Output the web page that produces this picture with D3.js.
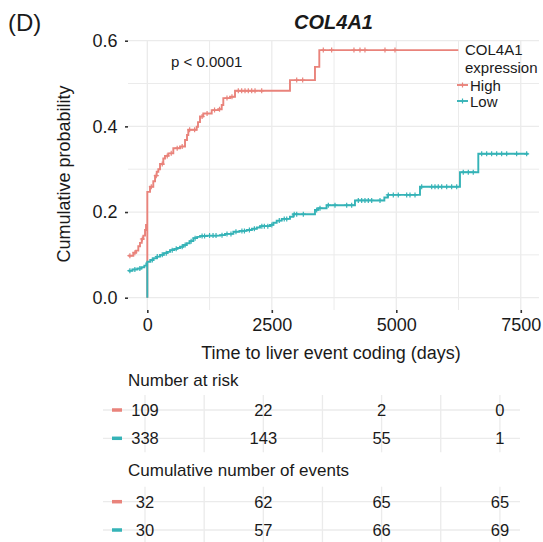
<!DOCTYPE html>
<html>
<head>
<meta charset="utf-8">
<script src="https://cdn.jsdelivr.net/npm/d3@7"></script>
<style>
  body { margin: 0; background: #fff; }
  text { font-family: "Liberation Sans", Arial, Helvetica, sans-serif; fill: #1a1a1a; }
</style>
</head>
<body>
<script>
// ---- data ----
var groups = ["High", "Low"];
var groupColors = ["#E9837B", "#35B3B7"];

// cumulative incidence, [time (days), probability]; the (0, 0) row is the origin point
var highCurve = [
  [-382, 0.098], [-281, 0.105], [-227, 0.110], [-181, 0.120], [-147, 0.128],
  [-112, 0.137], [-80, 0.145], [-46, 0.158], [-26, 0.170],
  [0, 0],
  [0, 0.247], [54, 0.259], [120, 0.272], [155, 0.285], [189, 0.294],
  [221, 0.300], [255, 0.312], [321, 0.325], [355, 0.331], [422, 0.337],
  [522, 0.349], [657, 0.353], [757, 0.368], [797, 0.380], [823, 0.392],
  [992, 0.399], [1018, 0.410], [1058, 0.423], [1124, 0.430], [1293, 0.438],
  [1426, 0.440], [1494, 0.450], [1526, 0.466], [1661, 0.469], [1761, 0.483],
  [2865, 0.508], [3367, 0.539], [3454, 0.578], [6245, 0.578]
];
var lowCurve = [
  [-382, 0.063], [-300, 0.066], [-200, 0.068], [-120, 0.071], [-60, 0.075],
  [-20, 0.080],
  [0, 0],
  [0, 0.084], [60, 0.088], [120, 0.092], [190, 0.096], [255, 0.100],
  [330, 0.104], [400, 0.107], [456, 0.111], [540, 0.114], [600, 0.116],
  [657, 0.119], [720, 0.123], [791, 0.127], [850, 0.132], [924, 0.139],
  [1000, 0.142], [1060, 0.144], [1200, 0.145], [1460, 0.146], [1560, 0.149],
  [1728, 0.154], [1850, 0.156], [1996, 0.158], [2100, 0.161], [2200, 0.164],
  [2263, 0.167], [2464, 0.170], [2530, 0.175], [2598, 0.180], [2700, 0.184],
  [2865, 0.189], [2932, 0.195], [3367, 0.205], [3430, 0.209], [3600, 0.216],
  [4170, 0.227], [4760, 0.234], [4830, 0.240], [5476, 0.259], [6279, 0.293],
  [6647, 0.336], [7650, 0.336]
];

// censoring times (marks sit on the curve)
var highCensor = [-350, -250, -100, 80, 180, 300, 400, 480, 600, 700, 850, 950,
  1100, 1200, 1350, 1450, 1600, 1700, 1827, 1895, 1962, 2028, 2096, 2163, 2297,
  3000, 3120, 3534, 3702, 4150, 4271, 4371, 4773, 4974];
var lowCensor = [-350, -250, -150, 100, 200, 300, 380, 500, 580, 700, 760, 880,
  960, 1100, 1150, 1250, 1320, 1380, 1500, 1600, 1680, 1780, 1900, 1950, 2050,
  2150, 2300, 2350, 2420, 2500, 2650, 2750, 2800, 2950, 3000, 3133, 3401, 3468,
  3635, 3769, 4004, 4104, 4237, 4305, 4371, 4438, 4506, 4673, 4840, 4940, 5040,
  5209, 5275, 5376, 5510, 5711, 5777, 5843, 5912, 6012, 6112, 6213, 6345, 6446,
  6546, 6715, 6815, 6915, 7016, 7116, 7217, 7417, 7618];

var xMajor = [0, 2500, 5000, 7500];
var xMinor = [1250, 3750, 6250];
var yMajor = [0, 0.2, 0.4, 0.6];
var yMinor = [0.1, 0.3, 0.5];

var riskTimes = [0, 2500, 5000, 7500];
var riskHigh = [109, 22, 2, 0];
var riskLow = [338, 143, 55, 1];
var eventsHigh = [32, 62, 65, 65];
var eventsLow = [30, 57, 66, 69];

// ---- layout ----
var W = 543, H = 542;
var panel = {left: 128, right: 539, top: 40, bottom: 310};
var gridColor = "#ebebeb";

var svg = d3.select("body").append("svg")
  .attr("width", W).attr("height", H);

svg.append("rect").attr("width", W).attr("height", H).attr("fill", "#fff");

var x = d3.scaleLinear().domain([-388, 7866]).range([panel.left, panel.right]);
var y = d3.scaleLinear().domain([0, 0.6]).range([297.7, 40.7]);

// grid
var grid = svg.append("g");
grid.selectAll(".vg").data(xMajor.concat(xMinor)).enter().append("line")
  .attr("x1", d => x(d)).attr("x2", d => x(d))
  .attr("y1", panel.top).attr("y2", panel.bottom)
  .attr("stroke", gridColor).attr("stroke-width", d => xMajor.indexOf(d) >= 0 ? 1.3 : 1);
grid.selectAll(".hg").data(yMajor.concat(yMinor)).enter().append("line")
  .attr("x1", panel.left).attr("x2", panel.right)
  .attr("y1", d => y(d)).attr("y2", d => y(d))
  .attr("stroke", gridColor).attr("stroke-width", d => yMajor.indexOf(d) >= 0 ? 1.3 : 1);

// axes
var yAxis = svg.append("g").attr("transform", "translate(" + panel.left + ",0)")
  .call(d3.axisLeft(y).tickValues(yMajor).tickSize(3).tickPadding(7.5)
    .tickFormat(d3.format(".1f")));
var xAxis = svg.append("g").attr("transform", "translate(0," + panel.bottom + ")")
  .call(d3.axisBottom(x).tickValues(xMajor).tickSize(3).tickPadding(5)
    .tickFormat(d3.format("d")));
[xAxis, yAxis].forEach(function(ax) {
  ax.select(".domain").remove();
  ax.selectAll(".tick line").attr("stroke", "#333").attr("stroke-width", 1.6);
  ax.selectAll(".tick text").style("font-size", "18px").attr("fill", "#1a1a1a")
    .style("font-family", '"Liberation Sans", Arial, sans-serif');
});

// curves
var line = d3.line().x(d => x(d[0])).y(d => y(d[1])).curve(d3.curveStepAfter);
var bis = d3.bisector(d => d[0]).right;
function stepValue(curve, t) {
  return curve[Math.max(0, bis(curve, t) - 1)][1];
}

var curves = [highCurve, lowCurve];
var censors = [highCensor, lowCensor];
curves.forEach(function(c, i) {
  svg.append("path").datum(c)
    .attr("d", line).attr("fill", "none")
    .attr("stroke", groupColors[i]).attr("stroke-width", 1.9);
  var cross = svg.append("g").attr("stroke", groupColors[i]).attr("stroke-width", 1.2);
  cross.selectAll("path").data(censors[i]).enter().append("path")
    .attr("d", function(t) {
      var cx = x(t), cy = y(stepValue(c, t));
      return "M" + (cx - 2.5) + "," + cy + "H" + (cx + 2.5) + "M" + cx + "," + (cy - 2.5) + "V" + (cy + 2.5);
    });
});

// titles
svg.append("text").attr("x", 8).attr("y", 31).style("font-size", "24px").text("(D)");
svg.append("text").attr("x", (panel.left + panel.right) / 2).attr("y", 29)
  .attr("text-anchor", "middle").style("font-size", "20px")
  .style("font-weight", "bold").style("font-style", "italic").text("COL4A1");
svg.append("text").attr("x", 171).attr("y", 67).style("font-size", "15px").text("p < 0.0001");
svg.append("text").attr("x", 331).attr("y", 359).attr("text-anchor", "middle")
  .style("font-size", "18px").text("Time to liver event coding (days)");
svg.append("text").attr("transform", "translate(70,174) rotate(-90)")
  .attr("text-anchor", "middle").style("font-size", "18px").text("Cumulative probability");

// legend
var lg = svg.append("g");
lg.append("text").attr("x", 465).attr("y", 55).style("font-size", "15px").text("COL4A1");
lg.append("text").attr("x", 465).attr("y", 73).style("font-size", "15px").text("expression");
groups.forEach(function(g, i) {
  var ly = 85 + i * 16;
  lg.append("line").attr("x1", 457).attr("x2", 468).attr("y1", ly).attr("y2", ly)
    .attr("stroke", groupColors[i]).attr("stroke-width", 1.9);
  lg.append("path").attr("d", "M462.5," + (ly - 2.5) + "V" + (ly + 2.5))
    .attr("stroke", groupColors[i]).attr("stroke-width", 1.2);
  lg.append("text").attr("x", 470).attr("y", ly + 5.5).style("font-size", "15px").text(g);
});

// risk tables
var tx = d3.scaleLinear().domain([-888, 7925]).range([103, 520]);
function drawTable(title, titleY, rowYs, rows) {
  svg.append("text").attr("x", 128).attr("y", titleY).style("font-size", "17px").text(title);
  var top = rowYs[0] - 15, bottom = rowYs[1] + 14;
  svg.selectAll(null).data(xMajor.concat(xMinor)).enter().append("line")
    .attr("x1", d => tx(d)).attr("x2", d => tx(d)).attr("y1", top).attr("y2", bottom)
    .attr("stroke", gridColor).attr("stroke-width", 1.3);
  rows.forEach(function(vals, i) {
    var ry = rowYs[i];
    svg.append("line").attr("x1", 103).attr("x2", 520).attr("y1", ry).attr("y2", ry)
      .attr("stroke", gridColor).attr("stroke-width", 1.3);
    svg.append("line").attr("x1", 112).attr("x2", 122).attr("y1", ry).attr("y2", ry)
      .attr("stroke", groupColors[i]).attr("stroke-width", 3.5);
    svg.selectAll(null).data(vals).enter().append("text")
      .attr("x", (d, j) => tx(riskTimes[j])).attr("y", ry + 6)
      .attr("text-anchor", "middle").style("font-size", "16.5px").text(d => d);
  });
}
drawTable("Number at risk", 386, [410, 438.3], [riskHigh, riskLow]);
drawTable("Cumulative number of events", 476, [501.7, 530], [eventsHigh, eventsLow]);
</script>
</body>
</html>
